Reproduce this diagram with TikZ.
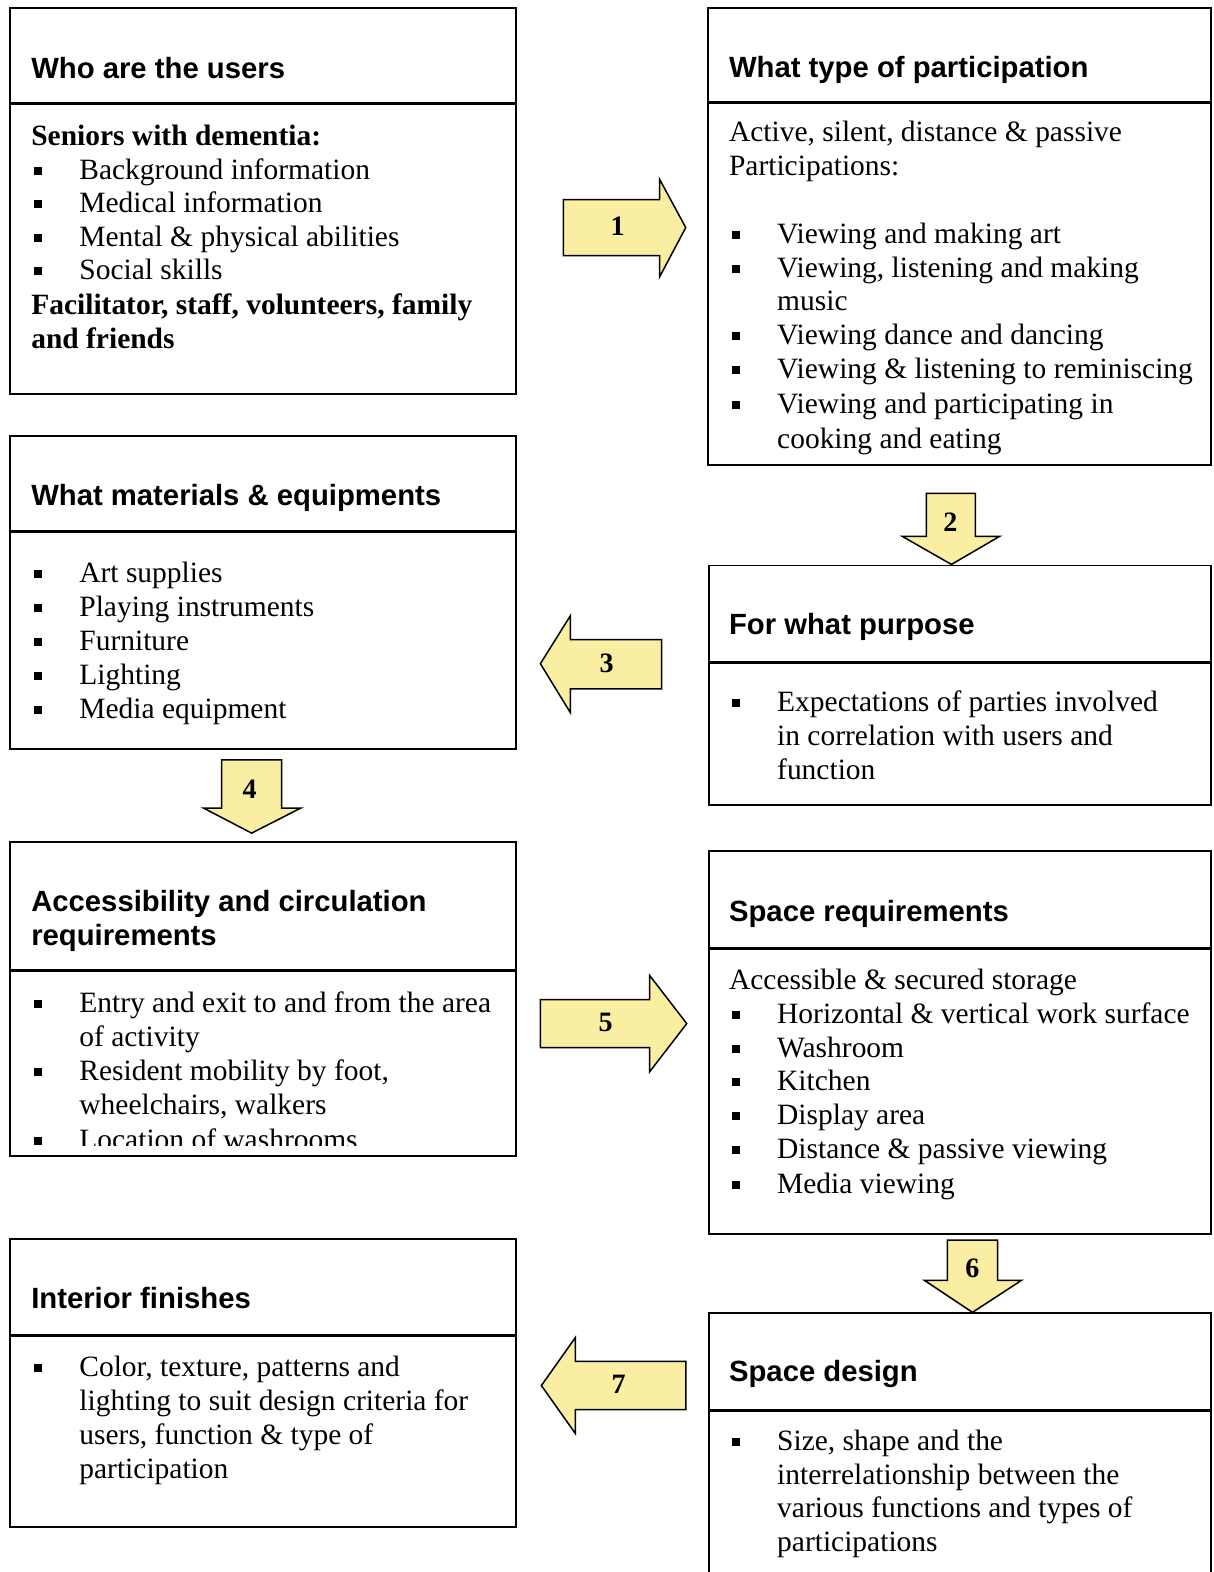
\documentclass[tikz,border=0pt]{standalone}
\usepackage{fontspec}
\setmainfont{Liberation Serif}
\newfontfamily\headfont{Liberation Sans}
\definecolor{arrowyellow}{RGB}{249,238,162}
\newcommand\bul{\raisebox{4.5pt}{\rule{8pt}{8pt}}}
\newcommand\itm[4]{\node[bodytxt] (#1) at (#2,#3) {\makebox[48pt][l]{\hspace{3pt}\bul}#4};}
\newcommand\txt[4]{\node[bodytxt] (#1) at (#2,#3) {#4};}
\newcommand\hd[4]{\node[headtxt] (#1) at (#2,#3) {#4};}
\begin{document}
\begin{tikzpicture}[x=1pt,y=-1pt,
  boxline/.style={draw=black, line width=1.8pt},
  divider/.style={draw=black, line width=3.2pt},
  headtxt/.style={anchor=base west, inner sep=0pt, font=\headfont\bfseries\fontsize{29.2}{34}\selectfont},
  bodytxt/.style={anchor=base west, inner sep=0pt, font=\fontsize{29.4}{34}\selectfont},
  barrow/.style={draw=black, line width=1.5pt, fill=arrowyellow, line join=miter},
  alabel/.style={inner sep=0pt, font=\bfseries\fontsize{28}{30}\selectfont}]
\useasboundingbox (0,0) rectangle (1210,1568);
\fill[white] (0,0) rectangle (1210,1568);

% ---------- Box 1: users
\draw[boxline] (10,8) rectangle (515,393);
\draw[divider] (10,103) -- (515,103);
\hd{h1}{31}{78}{Who are the users}
\txt{u0}{31}{145}{\textbf{Seniors with dementia:}}
\itm{u1}{31}{179}{Background information}
\itm{u2}{31}{212}{Medical information}
\itm{u3}{31}{246}{Mental \& physical abilities}
\itm{u4}{31}{279}{Social skills}
\txt{u5}{31}{314}{\textbf{Facilitator, staff, volunteers, family}}
\txt{u6}{31}{348}{\textbf{and friends}}

% ---------- Box 2: participation
\draw[boxline] (706,8) rectangle (1208,464);
\draw[divider] (706,102) -- (1208,102);
\hd{h2}{727}{77}{What type of participation}
\txt{p0}{727}{141}{Active, silent, distance \& passive}
\txt{p1}{727}{175}{Participations:}
\itm{p2}{727}{243}{Viewing and making art}
\itm{p3}{727}{277}{Viewing, listening and making}
\txt{p4}{775}{310}{music}
\itm{p5}{727}{344}{Viewing dance and dancing}
\itm{p6}{727}{378}{Viewing \& listening to reminiscing}
\itm{p7}{727}{412}{Viewing and participating in}
\txt{p8}{775}{447}{cooking and eating}

% ---------- Box 3: materials
\draw[boxline] (10,435) rectangle (515,747);
\draw[divider] (10,530) -- (515,530);
\hd{h3}{31}{504}{What materials \& equipments}
\itm{m1}{31}{581}{Art supplies}
\itm{m2}{31}{615}{Playing instruments}
\itm{m3}{31}{649}{Furniture}
\itm{m4}{31}{683}{Lighting}
\itm{m5}{31}{717}{Media equipment}

% ---------- Box 4: purpose
\draw[boxline] (707,564) rectangle (1208,803);
\draw[divider] (707,661) -- (1208,661);
\hd{h4}{727}{633}{For what purpose}
\itm{f1}{727}{710}{Expectations of parties involved}
\txt{f2}{775}{744}{in correlation with users and}
\txt{f3}{775}{778}{function}

% ---------- Box 5: accessibility
\draw[boxline] (10,840) rectangle (515,1153);
\draw[divider] (10,968) -- (515,968);
\hd{h5a}{31}{909}{Accessibility and circulation}
\hd{h5b}{31}{943}{requirements}
\itm{a1}{31}{1010}{Entry and exit to and from the area}
\txt{a2}{79}{1044}{of activity}
\itm{a3}{31}{1078}{Resident mobility by foot,}
\txt{a4}{79}{1112}{wheelchairs, walkers}
\begin{scope}
\clip (12,1120) rectangle (513,1143);
\itm{a5}{31}{1147}{Location of washrooms}
\end{scope}

% ---------- Box 6: space requirements
\draw[boxline] (707,849) rectangle (1208,1231);
\draw[divider] (707,946) -- (1208,946);
\hd{h6}{727}{919}{Space requirements}
\txt{s0}{727}{987}{Accessible \& secured storage}
\itm{s1}{727}{1021}{Horizontal \& vertical work surface}
\itm{s2}{727}{1055}{Washroom}
\itm{s3}{727}{1088}{Kitchen}
\itm{s4}{727}{1122}{Display area}
\itm{s5}{727}{1156}{Distance \& passive viewing}
\itm{s6}{727}{1190}{Media viewing}

% ---------- Box 7: interior finishes
\draw[boxline] (10,1236) rectangle (515,1523);
\draw[divider] (10,1332) -- (515,1332);
\hd{h7}{31}{1305}{Interior finishes}
\itm{i1}{31}{1373}{Color, texture, patterns and}
\txt{i2}{79}{1407}{lighting to suit design criteria for}
\txt{i3}{79}{1441}{users, function \& type of}
\txt{i4}{79}{1475}{participation}

% ---------- Box 8: space design
\draw[boxline] (707,1572) -- (707,1310) -- (1208,1310) -- (1208,1572);
\draw[divider] (707,1407) -- (1208,1407);
\hd{h8}{727}{1378}{Space design}
\itm{d1}{727}{1447}{Size, shape and the}
\txt{d2}{775}{1481}{interrelationship between the}
\txt{d3}{775}{1514}{various functions and types of}
\txt{d4}{775}{1548}{participations}

% ---------- Block arrows
\draw[barrow] (562,199) -- (658,199) -- (658,179) -- (684,227) -- (658,276) -- (658,255) -- (562,255) -- cycle;
\node[alabel] (n1) at (616,226) {1};
\draw[barrow] (924,492) -- (973,492) -- (973,535) -- (997,535) -- (949,563) -- (900,535) -- (924,535) -- cycle;
\node[alabel] (n2) at (948,521) {2};
\draw[barrow] (660,638) -- (569,638) -- (569,614) -- (539,662) -- (569,711) -- (569,687) -- (660,687) -- cycle;
\node[alabel] (n3) at (605,662) {3};
\draw[barrow] (221,758) -- (281,758) -- (281,806) -- (300,806) -- (251,831) -- (203,806) -- (221,806) -- cycle;
\node[alabel] (n4) at (249,787) {4};
\draw[barrow] (539,997) -- (648,997) -- (648,973) -- (685,1021) -- (648,1069) -- (648,1045) -- (539,1045) -- cycle;
\node[alabel] (n5) at (604,1020) {5};
\draw[barrow] (945,1237) -- (995,1237) -- (995,1277) -- (1019,1277) -- (970,1309) -- (922,1277) -- (945,1277) -- cycle;
\node[alabel] (n6) at (970,1265) {6};
\draw[barrow] (684,1358) -- (574,1358) -- (574,1334) -- (540,1382) -- (574,1430) -- (574,1406) -- (684,1406) -- cycle;
\node[alabel] (n7) at (617,1381) {7};
\end{tikzpicture}
\end{document}
